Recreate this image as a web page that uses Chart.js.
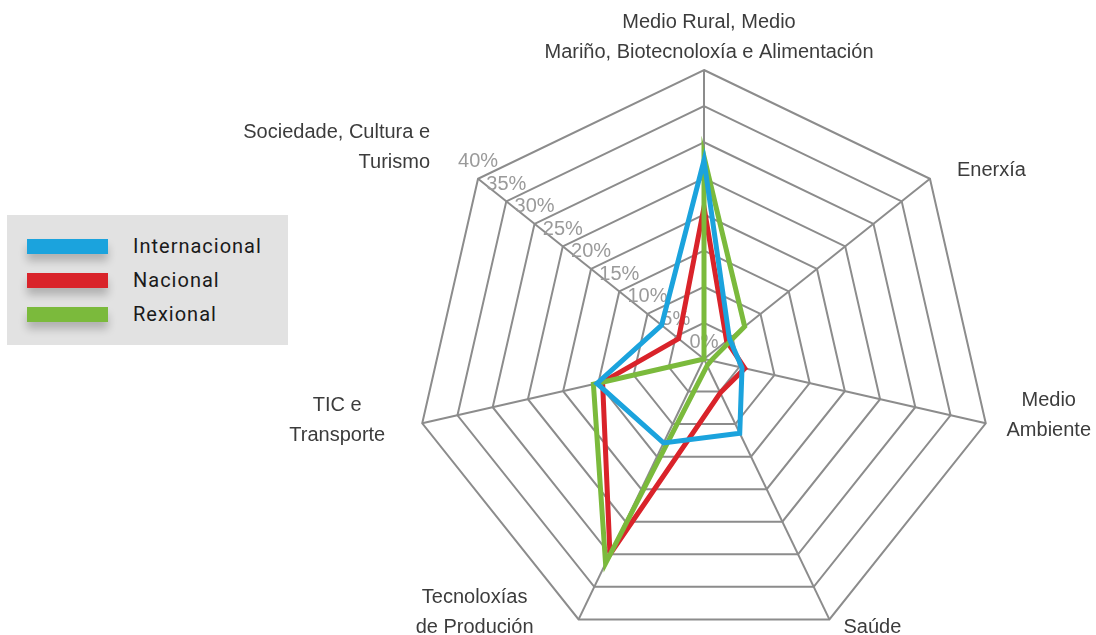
<!DOCTYPE html>
<html>
<head>
<meta charset="utf-8">
<script src="https://cdn.jsdelivr.net/npm/chart.js@4/dist/chart.umd.min.js"></script>
<style>
    html, body { margin: 0; padding: 0; background: #fff; overflow: hidden; }
    #wrap { position: relative; width: 1096px; height: 635px; overflow: hidden; }
    #radar { position: absolute; left: 0; top: 0; }
    #lenda {
        position: absolute; left: 7px; top: 215px; width: 281px; height: 130px;
        background: #e2e2e2;
        font-family: Roboto, 'DejaVu Sans', sans-serif; font-size: 20px; color: #1a1a1a;
    }
    #lenda .item { position: absolute; left: 20px; height: 16px; }
    #lenda .barra { position: absolute; left: 0; top: 0; width: 81px; height: 15px; box-shadow: 0 7px 8px rgba(0,0,0,0.22); }
    #lenda .texto { position: absolute; left: 106px; top: -5px; white-space: nowrap; letter-spacing: 1px; }
</style>
</head>
<body>
<div id="wrap">
    <canvas id="radar" width="1096" height="722"></canvas>
    <div id="lenda"></div>
</div>
<script>
const eixos = [
    ['Medio Rural, Medio', 'Mariño, Biotecnoloxía e Alimentación'],
    ['Enerxía'],
    ['Medio', 'Ambiente'],
    ['Saúde'],
    ['Tecnoloxías', 'de Produción'],
    ['TIC e', 'Transporte'],
    ['Sociedade, Cultura e', 'Turismo']
];
const internacional = [27.5, 4.5, 5.4, 11.4, 12.9, 15.2, 7.5];
const nacional = [21, 4, 5.8, 5.2, 30, 14.4, 4.5];
const rexional = [28, 7.2, 1, 1, 31.4, 15.7, 0];
const marcas = [0, 5, 10, 15, 20, 25, 30, 35, 40];

const series = [
    { nome: 'Internacional', valores: internacional, cor: '#1ba3dd', orde: 0 },
    { nome: 'Nacional', valores: nacional, cor: '#d9232a', orde: 2 },
    { nome: 'Rexional', valores: rexional, cor: '#7bba3c', orde: 1 }
];

// colocación das etiquetas dos eixos (desprazamento desde o vértice exterior)
const colocacion = [
    { dx: 5, dy: -48, align: 'center' },
    { dx: 27, dy: -8, align: 'left' },
    { dx: 63, dy: -23, align: 'center' },
    { dx: 43, dy: 8, align: 'center' },
    { dx: -104, dy: -22, align: 'center' },
    { dx: -85, dy: -18, align: 'center' },
    { dx: -48, dy: -46, align: 'right' }
];

const etiquetas = {
    id: 'etiquetas',
    beforeDatasetsDraw(chart) {
        const r = chart.scales.r;
        const ctx = chart.ctx;
        ctx.save();
        ctx.font = '20px "Liberation Sans", Arial, sans-serif';
        ctx.fillStyle = '#9a9a9a';
        ctx.textAlign = 'center';
        ctx.textBaseline = 'middle';
        marcas.forEach(v => {
            const p = r.getPointPositionForValue(6, v);
            ctx.fillText(v + '%', p.x, p.y - 17);
        });
        ctx.restore();
    },
    afterDatasetsDraw(chart) {
        const r = chart.scales.r;
        const ctx = chart.ctx;
        ctx.save();
        ctx.font = '20px "Liberation Sans", Arial, sans-serif';
        ctx.fillStyle = '#3c3c3c';
        ctx.textBaseline = 'middle';
        eixos.forEach((linhas, i) => {
            const p = r.getPointPosition(i, r.drawingArea);
            const c = colocacion[i];
            ctx.textAlign = c.align;
            linhas.forEach((t, k) => {
                ctx.fillText(t, p.x + c.dx, p.y + c.dy + k * 30);
            });
        });
        ctx.restore();
    }
};

new Chart(document.getElementById('radar').getContext('2d'), {
    type: 'radar',
    data: {
        labels: eixos,
        datasets: series.map(s => ({
            label: s.nome,
            data: s.valores,
            borderColor: s.cor,
            backgroundColor: s.cor,
            borderWidth: 5,
            fill: false,
            pointRadius: 0,
            tension: 0,
            order: s.orde
        }))
    },
    options: {
        responsive: false,
        animation: false,
        layout: { padding: { left: 415, right: 103, top: 70, bottom: 74 } },
        plugins: {
            legend: { display: false },
            tooltip: { enabled: false }
        },
        scales: {
            r: {
                min: 0,
                max: 40,
                ticks: { stepSize: 5, display: false },
                pointLabels: { display: false },
                grid: { color: '#8c8c8c', lineWidth: 2 },
                angleLines: { color: '#8c8c8c', lineWidth: 2 }
            }
        }
    },
    plugins: [etiquetas]
});

const lenda = document.getElementById('lenda');
series.forEach((s, i) => {
    const item = document.createElement('div');
    item.className = 'item';
    item.style.top = (24 + i * 34) + 'px';
    item.innerHTML = '<div class="barra" style="background:' + s.cor + '"></div><div class="texto">' + s.nome + '</div>';
    lenda.appendChild(item);
});
</script>
</body>
</html>
